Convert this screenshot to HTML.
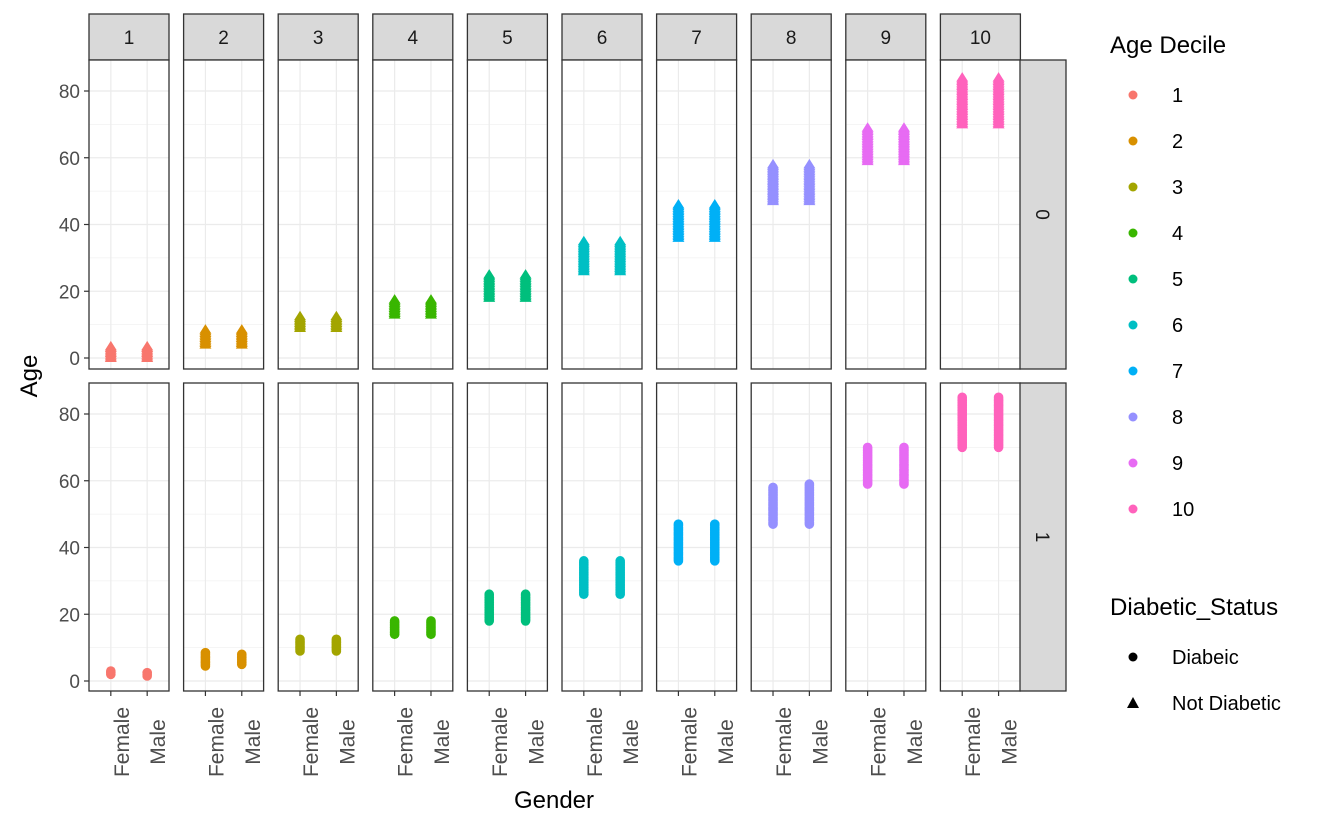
<!DOCTYPE html>
<html><head><meta charset="utf-8"><style>
body{margin:0;background:#fff;}
svg text{font-family:"Liberation Sans",Arial,sans-serif;}
</style></head><body>
<svg id="chart" width="1344" height="830" xmlns="http://www.w3.org/2000/svg"></svg>
<script>
const deciles=["1","2","3","4","5","6","7","8","9","10"];
const colors=["#F8766D","#D89000","#A3A500","#39B600","#00BF7D","#00BFC4","#00B0F6","#9590FF","#E76BF3","#FF62BC"];
const genders=["Female","Male"];
const statusRows=["0","1"];
const yTicks=[0,20,40,60,80];
// [decile][gender] min/max for status 0 (not diabetic, triangles)
const nd_min=[[0,0],[4,4],[9,9],[13,13],[18,18],[26,26],[36,36],[47,47],[59,59],[70,70]];
const nd_max=[[3.5,3.5],[8.5,8.5],[12.5,12.5],[17.5,17.5],[25,25],[35,35],[46,46],[58,58],[69,69],[84,84]];
// status 1 (diabetic, circles)
const d_min=[[2,1.5],[4.5,5],[9,9],[14,14],[18,18],[26,26],[36,36],[47,47],[59,59],[70,70]];
const d_max=[[3,2.5],[8.5,8],[12.5,12.5],[18,18],[26,26],[36,36],[47,47],[58,59],[70,70],[85,85]];

const svg=document.getElementById('chart');
const NS='http://www.w3.org/2000/svg';
function mk(tag,attrs,parent,txt){const e=document.createElementNS(NS,tag);for(const k in attrs)e.setAttribute(k,attrs[k]);if(txt!==undefined)e.textContent=txt;(parent||svg).appendChild(e);return e;}
const panelLeft0=89,panelW=80,panelStep=94.6;
const rowTop=[60,383],rowBot=[369,691],zeroY=[358,681];
const pxPerUnit=(358-91)/80;
function yS(r,v){return zeroY[r]-v*pxPerUnit;}
function xS(c,g){return panelLeft0+c*panelStep+panelW*(0.6+g)/2.2;}

for(let c=0;c<10;c++){
  const L=panelLeft0+c*panelStep;
  const s=mk('rect',{x:L,y:14,width:panelW,height:46,fill:'#D9D9D9',stroke:'#333',"stroke-width":1.3});
  
  const t=mk('text',{x:L+panelW/2,y:44,"text-anchor":"middle","font-size":19,fill:'#1A1A1A'},svg,deciles[c]);
  
  for(let r=0;r<2;r++){
    const g=mk('g',{});
    
    
    mk('rect',{x:L,y:rowTop[r],width:panelW,height:rowBot[r]-rowTop[r],fill:'#fff'},g);
    for(let v=10;v<=90;v+=20){const y=yS(r,v);if(y>rowTop[r])mk('line',{x1:L,x2:L+panelW,y1:y,y2:y,stroke:'#EBEBEB',"stroke-width":0.6},g);}
    yTicks.forEach(v=>{const y=yS(r,v);mk('line',{x1:L,x2:L+panelW,y1:y,y2:y,stroke:'#EBEBEB',"stroke-width":1.2},g);});
    for(let gi=0;gi<2;gi++){const x=xS(c,gi);mk('line',{x1:x,x2:x,y1:rowTop[r],y2:rowBot[r],stroke:'#EBEBEB',"stroke-width":1.2},g);}
    for(let gi=0;gi<2;gi++){
      const x=xS(c,gi);
      const lo=r===0?nd_min[c][gi]:d_min[c][gi], hi=r===0?nd_max[c][gi]:d_max[c][gi];
      for(let v=lo;v<=hi+1e-9;v+=0.5){
        const y=yS(r,v);let p;
        if(r===0){p=mk('polygon',{points:`${x},${y-5.5} ${x-6},${y+4} ${x+6},${y+4}`,fill:colors[c]},g);}
        else{p=mk('circle',{cx:x,cy:y,r:4.8,fill:colors[c]},g);}
        
      }
    }
    mk('rect',{x:L,y:rowTop[r],width:panelW,height:rowBot[r]-rowTop[r],fill:'none',stroke:'#333',"stroke-width":1.3},g);
  }
  for(let gi=0;gi<2;gi++){
    const x=xS(c,gi);
    mk('line',{x1:x,x2:x,y1:691,y2:696,stroke:'#333',"stroke-width":1.2});
    const t2=mk('text',{transform:`translate(${x+18},742) rotate(-90)`,"text-anchor":"middle","font-size":21,fill:'#4D4D4D'},svg,genders[gi]);
    
  }
}
for(let r=0;r<2;r++){
  const s=mk('rect',{x:1020,y:rowTop[r],width:46,height:rowBot[r]-rowTop[r],fill:'#D9D9D9',stroke:'#333',"stroke-width":1.3});
  
  const cy=(rowTop[r]+rowBot[r])/2;
  const t=mk('text',{transform:`translate(1036,${cy}) rotate(90)`,"text-anchor":"middle","font-size":19,fill:'#1A1A1A'},svg,statusRows[r]);
  
  yTicks.forEach(v=>{const y=yS(r,v);
    mk('line',{x1:84,x2:89,y1:y,y2:y,stroke:'#333',"stroke-width":1.2});
    const tl=mk('text',{x:80,y:y+7,"text-anchor":"end","font-size":19,fill:'#4D4D4D'},svg,String(v));
    
  });
}
let e=mk('text',{x:554,y:808,"text-anchor":"middle","font-size":24,fill:'#000'},svg,'Gender');

e=mk('text',{transform:'translate(37,376) rotate(-90)',"text-anchor":"middle","font-size":24,fill:'#000'},svg,'Age');

e=mk('text',{x:1110,y:53,"font-size":24,fill:'#000'},svg,'Age Decile');

deciles.forEach((d,i)=>{const y=95+i*46;
  const g=mk('g',{});
  mk('circle',{cx:1133,cy:y,r:4.5,fill:colors[i]},g);
  mk('text',{x:1172,y:y+7,"font-size":20,fill:'#000'},g,d);
});
e=mk('text',{x:1110,y:615,"font-size":24,fill:'#000'},svg,'Diabetic_Status');

let g=mk('g',{});
mk('circle',{cx:1133,cy:657,r:4.5,fill:'#000'},g);mk('text',{x:1172,y:664,"font-size":20,fill:'#000'},g,'Diabeic');
g=mk('g',{});
mk('polygon',{points:'1133,697 1127,708 1139,708',fill:'#000'},g);mk('text',{x:1172,y:710,"font-size":20,fill:'#000'},g,'Not Diabetic');
</script>
</body></html>
